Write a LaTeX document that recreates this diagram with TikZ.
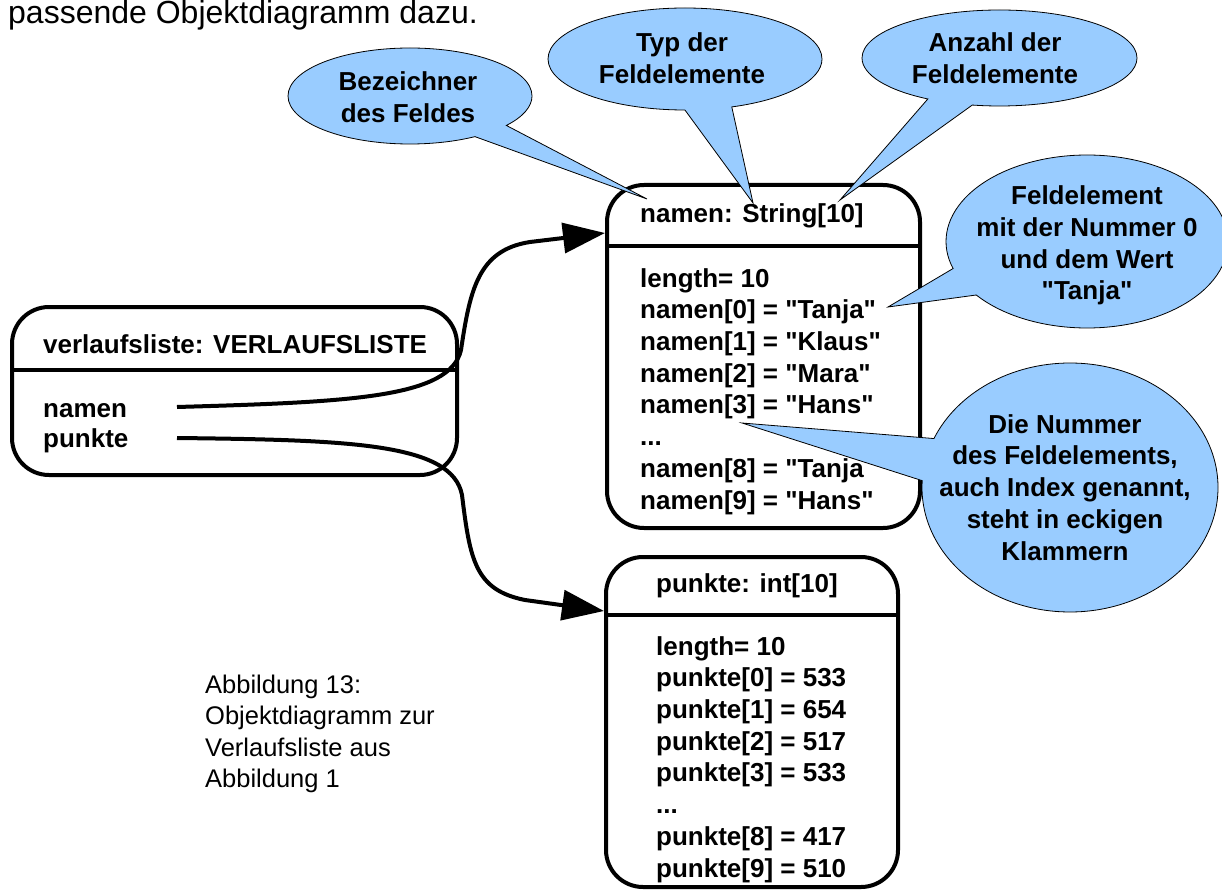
\documentclass[tikz,border=0pt]{standalone}
\usepackage{fontspec}
\setmainfont{Liberation Sans}[Ligatures=TeXOff]
\usetikzlibrary{shapes.callouts,arrows.meta}
\definecolor{callblue}{RGB}{153,204,255}
\tikzset{
  objbox/.style={draw=black, line width=4pt, rounded corners=37pt, inner sep=0pt},
  divider/.style={line width=4pt},
  boxtxt/.style={font=\bfseries\fontsize{26}{31.7}\selectfont, align=left, anchor=base west, inner sep=0pt},
  bubble/.style={ellipse callout, draw=black, line width=0.8pt, fill=callblue, inner sep=0pt, callout pointer arc=20},
  bubtxt/.style={font=\bfseries\fontsize{26}{31.7}\selectfont, align=center, anchor=base, inner sep=0pt},
  link/.style={line width=4pt, line join=round, -{Triangle[length=42pt,width=30pt]}},
  plain/.style={align=left, anchor=base west, inner sep=0pt}
}
\begin{document}
\begin{tikzpicture}[x=1pt,y=1pt]
\useasboundingbox (0,0) rectangle (1222,-890);

% header text
\node[plain, font=\fontsize{32}{38}\selectfont] (head) at (8,-24) {passende Objektdiagramm dazu.};

% object boxes (multi-line texts are anchored at the baseline of their last line)
\node[objbox, minimum width=445pt, minimum height=168pt] (vbox) at (234.5,-391) {};
\draw[divider] (12,-370) -- (457,-370);
\node[boxtxt] (vtitle) at (43,-353) {verlaufsliste: VERLAUFSLISTE};
\node[boxtxt, font=\bfseries\fontsize{26}{30}\selectfont] (vattr) at (43,-447) {namen\\punkte};

\node[objbox, minimum width=313pt, minimum height=343pt] (nbox) at (763.5,-356.5) {};
\draw[divider] (607,-246) -- (920,-246);
\node[boxtxt] (ntitle) at (640,-223) {namen: String[10]};
\node[boxtxt] (nbody) at (640,-509) {length= 10\\namen[0] = "Tanja"\\namen[1] = "Klaus"\\namen[2] = "Mara"\\namen[3] = "Hans"\\...\\namen[8] = "Tanja\\namen[9] = "Hans"};

\node[objbox, minimum width=292pt, minimum height=330pt] (pbox) at (752,-722) {};
\draw[divider] (606,-615) -- (898,-615);
\node[boxtxt] (ptitle) at (656,-592) {punkte: int[10]};
\node[boxtxt] (pbody) at (656,-877) {length= 10\\punkte[0] = 533\\punkte[1] = 654\\punkte[2] = 517\\punkte[3] = 533\\...\\punkte[8] = 417\\punkte[9] = 510};

% connectors
\coordinate (nstart) at (177,-407);
\coordinate (pstart) at (177,-438);
\draw[link] (nstart) .. controls (350,-402) and (450,-398) .. (461,-350)
  .. controls (470,-290) and (478,-250) .. (530,-242) -- ([yshift=-50pt]nbox.north west);
\draw[link] (pstart) .. controls (350,-440) and (452,-443) .. (462,-495)
  .. controls (470,-560) and (475,-590) .. (525,-600) -- ([yshift=-56pt]pbox.north west);

% callouts
\node[bubble, minimum width=244pt, minimum height=96pt, callout absolute pointer={(647,-199)}] (c1) at (410,-96) {};
\node[bubtxt] (t1) at (408,-122.7) {Bezeichner\\des Feldes};

\node[bubble, minimum width=274pt, minimum height=102pt, callout absolute pointer={(753,-203)}] (c2) at (685,-59) {};
\node[bubtxt] (t2) at (682,-83.7) {Typ der\\Feldelemente};

\node[bubble, minimum width=275pt, minimum height=96pt, callout absolute pointer={(840,-200)}] (c3) at (999.5,-58) {};
\node[bubtxt] (t3) at (995,-83.7) {Anzahl der\\Feldelemente};

\node[bubble, minimum width=282pt, minimum height=173pt, callout absolute pointer={(888,-307)}] (c4) at (1087,-241.5) {};
\node[bubtxt] (t4) at (1087,-300) {Feldelement\\mit der Nummer 0\\und dem Wert\\"Tanja"};

\node[bubble, minimum width=296pt, minimum height=249pt, callout absolute pointer={(742,-423)}] (c5) at (1070,-487.5) {};
\node[bubtxt] (t5) at (1065,-560) {Die Nummer\\des Feldelements,\\auch Index genannt,\\steht in eckigen\\Klammern};

% caption
\node[plain, font=\fontsize{25.5}{31.5}\selectfont] (cap) at (205,-787.5) {Abbildung 13:\\Objektdiagramm zur\\Verlaufsliste aus\\Abbildung 1};
\end{tikzpicture}
\end{document}
